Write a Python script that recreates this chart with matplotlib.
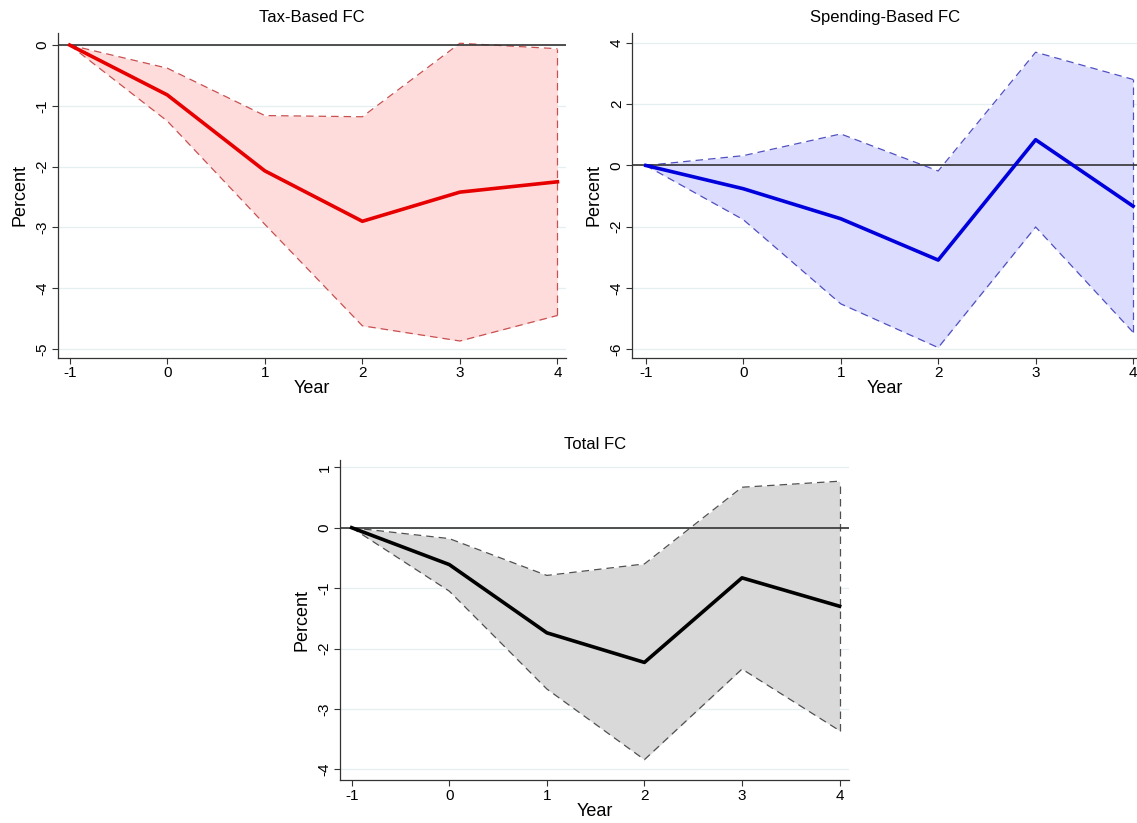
import matplotlib
matplotlib.use("Agg")
import matplotlib.pyplot as plt

plt.rcParams['font.family'] = ['Liberation Sans', 'DejaVu Sans']

# Dados
years = [-1, 0, 1, 2, 3, 4]

tax_mean = [0, -0.82, -2.07, -2.90, -2.42, -2.25]
tax_upper = [0, -0.38, -1.16, -1.18, 0.03, -0.06]
tax_lower = [0, -1.25, -2.95, -4.62, -4.87, -4.45]

spend_mean = [0, -0.76, -1.74, -3.09, 0.84, -1.33]
spend_upper = [0, 0.32, 1.03, -0.18, 3.70, 2.81]
spend_lower = [0, -1.77, -4.52, -5.95, -2.01, -5.45]

total_mean = [0, -0.61, -1.74, -2.23, -0.83, -1.30]
total_upper = [0, -0.18, -0.79, -0.60, 0.67, 0.77]
total_lower = [0, -1.05, -2.67, -3.84, -2.34, -3.36]

titles = ["Tax-Based FC", "Spending-Based FC", "Total FC"]
tax_yticks = [0, -1, -2, -3, -4, -5]
spend_yticks = [4, 2, 0, -2, -4, -6]
total_yticks = [1, 0, -1, -2, -3, -4]


def panel(ax, title, mean, upper, lower, line_color, fill_color, edge_color,
          yticks, xlim, ylim):
    ax.fill_between(years, lower, upper, color=fill_color, linewidth=0, zorder=1)
    ax.plot(years, upper, linestyle=(0, (6, 4)), color=edge_color, linewidth=0.9, zorder=2)
    ax.plot(years, lower, linestyle=(0, (6, 4)), color=edge_color, linewidth=0.9, zorder=2)
    ax.plot([years[-1], years[-1]], [lower[-1], upper[-1]], linestyle=(0, (6, 4)),
            color=edge_color, linewidth=0.9, zorder=2)
    ax.axhline(0, color='#333333', linewidth=1.2, zorder=3)
    ax.plot(years, mean, color=line_color, linewidth=2.6, zorder=4)

    ax.set_xlim(xlim)
    ax.set_ylim(ylim)
    ax.set_xticks(years)
    ax.set_xticklabels([str(y) for y in years])
    ax.set_yticks(yticks)
    ax.set_yticklabels([str(t) for t in yticks], rotation=90, va='center')
    ax.grid(axis='y', color='#e6eff0', linewidth=0.9, zorder=0)
    ax.set_axisbelow(True)
    for s in ['top', 'right']:
        ax.spines[s].set_visible(False)
    for s in ['left', 'bottom']:
        ax.spines[s].set_color('#333333')
        ax.spines[s].set_linewidth(0.9)
    ax.tick_params(axis='both', labelsize=11, color='#333333', length=4, width=0.8, pad=2)
    ax.set_title(title, fontsize=12, pad=8)
    ax.set_xlabel("Year", fontsize=13, labelpad=0)
    ax.set_ylabel("Percent", fontsize=13, labelpad=5)


fig = plt.figure(figsize=(11.37, 8.23), dpi=100)

ax1 = fig.add_axes([0.051, 0.565, 0.447, 0.395])
panel(ax1, titles[0], tax_mean, tax_upper, tax_lower,
      '#e60000', '#ffdcdc', '#c85050', tax_yticks, (-1.12, 4.09), (-5.15, 0.2))

ax2 = fig.add_axes([0.556, 0.565, 0.444, 0.395])
panel(ax2, titles[1], spend_mean, spend_upper, spend_lower,
      '#0000dc', '#dcdcff', '#5050c0', spend_yticks, (-1.14, 4.04), (-6.29, 4.33))

ax3 = fig.add_axes([0.299, 0.052, 0.448, 0.389])
panel(ax3, titles[2], total_mean, total_upper, total_lower,
      '#000000', '#d9d9d9', '#505050', total_yticks, (-1.12, 4.1), (-4.18, 1.12))

fig.savefig("out.png", dpi=100)
plt.close(fig)
